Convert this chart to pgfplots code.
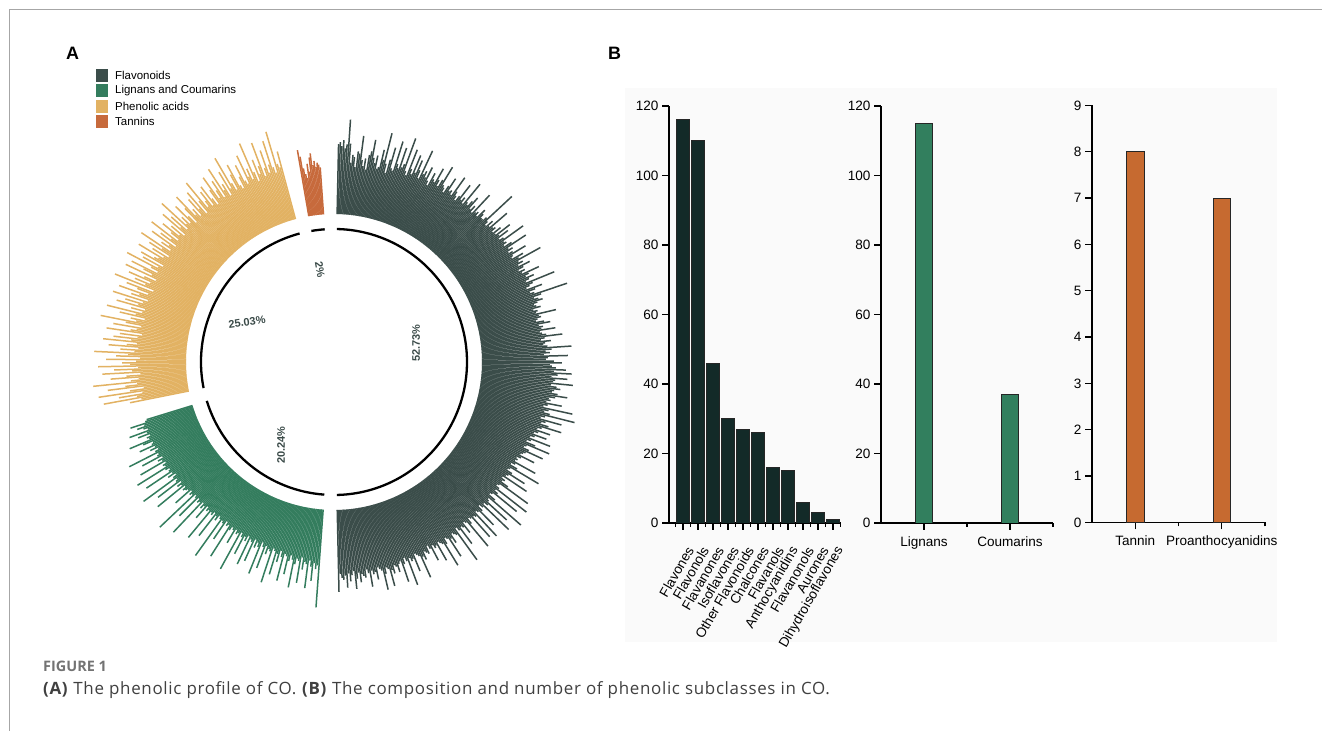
\documentclass[border=0pt]{standalone}
\usepackage{pgfplots}
\pgfplotsset{compat=1.18}
\usepackage{pgfplotstable}
\usepackage{fontspec}
\setmainfont{Liberation Sans}
\newfontfamily\capfont{Open Sans}
\definecolor{flavC}{HTML}{3B4D4A}
\definecolor{ligC}{HTML}{347D5E}
\definecolor{phenC}{HTML}{E2B263}
\definecolor{tanC}{HTML}{C76A3C}
\definecolor{barA}{HTML}{132A28}
\definecolor{barB}{HTML}{327F5E}
\definecolor{barC}{HTML}{C66A30}
\definecolor{lblC}{HTML}{3A4A48}

% Flavonoids (396 compounds), bar lengths
\pgfplotstableread[row sep=\\]{len\\
70\\72\\68\\74\\66\\70\\95\\71\\52\\60\\58\\48\\64\\62\\80\\56\\50\\58\\47\\62\\
66\\78\\60\\55\\63\\50\\52\\70\\60\\88\\57\\48\\62\\75\\54\\52\\83\\60\\56\\78\\
58\\62\\90\\56\\52\\80\\60\\55\\76\\58\\72\\62\\54\\85\\60\\64\\58\\70\\56\\52\\
66\\60\\58\\74\\62\\56\\64\\80\\60\\58\\54\\62\\72\\58\\60\\56\\78\\62\\58\\54\\
60\\75\\58\\62\\56\\82\\60\\58\\64\\70\\57\\62\\55\\80\\58\\60\\56\\66\\62\\58\\
58\\62\\95\\60\\56\\64\\58\\80\\60\\62\\57\\66\\58\\75\\60\\70\\58\\62\\85\\60\\
62\\58\\66\\82\\60\\64\\58\\62\\76\\60\\58\\70\\64\\88\\62\\66\\60\\72\\64\\58\\
64\\60\\78\\66\\62\\70\\64\\60\\90\\66\\62\\58\\74\\66\\60\\64\\98\\70\\62\\66\\
70\\64\\60\\62\\66\\58\\62\\60\\80\\62\\64\\60\\58\\66\\72\\60\\64\\62\\76\\60\\
62\\66\\82\\64\\60\\70\\64\\62\\66\\90\\70\\64\\68\\62\\86\\66\\64\\72\\80\\68\\
70\\74\\84\\72\\90\\76\\70\\86\\74\\72\\92\\70\\76\\80\\74\\72\\78\\88\\76\\70\\
72\\68\\84\\70\\66\\96\\72\\68\\74\\100\\70\\66\\88\\72\\68\\76\\90\\70\\66\\80\\
68\\64\\78\\66\\62\\84\\64\\60\\70\\86\\62\\60\\66\\82\\64\\62\\60\\76\\62\\58\\
60\\58\\82\\60\\56\\64\\90\\58\\56\\62\\78\\60\\58\\84\\56\\60\\58\\66\\92\\58\\
56\\60\\96\\58\\62\\88\\58\\56\\64\\100\\58\\60\\86\\62\\58\\94\\60\\56\\62\\80\\
60\\58\\90\\62\\60\\86\\60\\58\\64\\92\\60\\58\\70\\62\\60\\80\\62\\58\\96\\64\\
62\\60\\70\\64\\84\\62\\60\\66\\90\\64\\62\\60\\80\\62\\64\\60\\76\\62\\58\\66\\
64\\62\\70\\66\\88\\64\\62\\60\\78\\64\\66\\62\\90\\64\\60\\66\\84\\62\\64\\72\\
66\\64\\72\\68\\84\\66\\64\\70\\86\\66\\64\\62\\74\\66\\68\\64\\80\\66\\62\\70\\
68\\66\\74\\64\\70\\80\\62\\66\\72\\64\\78\\66\\70\\68\\64\\82\\
}\flav
% Lignans and Coumarins (152)
\pgfplotstableread[row sep=\\]{len\\
98\\56\\60\\54\\72\\58\\52\\80\\56\\54\\62\\50\\76\\54\\52\\58\\82\\54\\50\\56\\
70\\52\\50\\78\\54\\48\\60\\52\\74\\50\\48\\84\\52\\50\\56\\48\\72\\50\\46\\80\\
52\\48\\54\\46\\70\\50\\48\\76\\46\\52\\48\\68\\50\\46\\88\\48\\50\\46\\62\\48\\
46\\50\\82\\46\\48\\44\\66\\48\\46\\90\\46\\44\\50\\46\\72\\44\\48\\46\\80\\46\\
48\\44\\60\\46\\50\\44\\86\\46\\48\\44\\70\\46\\44\\92\\46\\48\\44\\64\\46\\48\\
50\\46\\80\\48\\52\\46\\74\\50\\48\\88\\50\\46\\54\\48\\78\\50\\48\\52\\84\\50\\
52\\48\\76\\50\\54\\48\\70\\52\\50\\82\\52\\48\\56\\50\\66\\52\\50\\60\\74\\52\\
54\\50\\62\\52\\70\\50\\54\\60\\52\\66\\50\\48\\
}\lig
% Phenolic acids (188)
\pgfplotstableread[row sep=\\]{len\\
60\\48\\86\\52\\70\\46\\90\\58\\44\\80\\62\\50\\94\\56\\48\\76\\60\\46\\84\\54\\
72\\48\\88\\56\\64\\50\\80\\46\\70\\58\\92\\52\\66\\48\\78\\60\\50\\84\\56\\74\\
50\\68\\46\\82\\58\\52\\76\\48\\64\\90\\54\\60\\46\\72\\56\\86\\50\\62\\48\\78\\
56\\70\\52\\84\\48\\66\\58\\80\\50\\62\\74\\46\\88\\56\\68\\52\\76\\60\\48\\82\\
54\\64\\78\\50\\58\\86\\52\\70\\48\\74\\60\\56\\80\\52\\66\\48\\72\\58\\84\\50\\
62\\54\\76\\48\\68\\56\\82\\50\\60\\72\\52\\64\\48\\78\\56\\70\\50\\86\\54\\62\\
52\\74\\58\\48\\66\\80\\54\\60\\50\\70\\56\\76\\48\\62\\84\\52\\58\\68\\50\\72\\
56\\48\\64\\78\\52\\60\\70\\50\\82\\56\\62\\48\\74\\54\\88\\58\\50\\66\\76\\52\\
48\\60\\72\\54\\50\\80\\56\\64\\52\\90\\58\\48\\70\\54\\62\\86\\50\\58\\
76\\52\\60\\84\\56\\50\\92\\58\\54\\70\\
}\phen
% Tannins (15)
\pgfplotstableread[row sep=\\]{len\\
67\\60\\48\\42\\38\\52\\44\\58\\62\\50\\54\\48\\52\\50\\47\\
}\tan

\pgfplotstablecreatecol[expr={88.8-0.4495*\pgfplotstablerow}]{ang}{\flav}
\pgfplotstablecreatecol[expr={265.8-0.455*\pgfplotstablerow}]{ang}{\lig}
\pgfplotstablecreatecol[expr={191.3-0.461*\pgfplotstablerow}]{ang}{\phen}
\pgfplotstablecreatecol[expr={99.8-0.41*\pgfplotstablerow}]{ang}{\tan}

\pgfplotsset{
  radbar/.style={mark=none, line width=1.5bp,
    quiver={u={\thisrow{len}*cos(\thisrow{ang})}, v={\thisrow{len}*sin(\thisrow{ang})}}},
  bstyle/.style={scale only axis, axis lines*=left, tick align=outside,
    major tick length=7bp, minor tick length=4bp,
    axis line style={line width=1.2bp, black},
    every tick/.style={line width=1.2bp, black},
    /pgf/number format/assume math mode=true,
    ticklabel style={font=\fontsize{13.6}{13.6}\selectfont},
    ybar, ymin=0, height=417bp, width=172bp},
}

\begin{document}
\begin{tikzpicture}
\useasboundingbox (0,0) rectangle (1322bp,731bp);
% frame
\draw[black!35, line width=1bp] (9.5bp,0) -- (9.5bp,721bp) -- (1322bp,721bp);
% panel B background
\fill[black!2] (625bp,89bp) rectangle (1277bp,643bp);

% ---------- Panel A ----------
\begin{axis}[scale only axis, width=520bp, height=520bp,
  xmin=-260, xmax=260, ymin=-260, ymax=260, hide axis, clip=false,
  at={(334bp,369bp)}, anchor=center]
\addplot[flavC, radbar] table[x expr={148*cos(\thisrow{ang})}, y expr={148*sin(\thisrow{ang})}] {\flav};
\addplot[ligC, radbar] table[x expr={148*cos(\thisrow{ang})}, y expr={148*sin(\thisrow{ang})}] {\lig};
\addplot[phenC, radbar] table[x expr={148*cos(\thisrow{ang})}, y expr={148*sin(\thisrow{ang})}] {\phen};
\addplot[tanC, radbar] table[x expr={148*cos(\thisrow{ang})}, y expr={148*sin(\thisrow{ang})}] {\tan};
\coordinate (C) at (axis cs:0,0);
\end{axis}
\draw[line width=2.3bp] ([shift={(88.8:133bp)}]C) arc[start angle=88.8, end angle=-88.8, radius=133bp];
\draw[line width=2.3bp] ([shift={(265.8:133bp)}]C) arc[start angle=265.8, end angle=197.0, radius=133bp];
\draw[line width=2.3bp] ([shift={(191.3:133bp)}]C) arc[start angle=191.3, end angle=105.0, radius=133bp];
\draw[line width=2.3bp] ([shift={(99.8:133bp)}]C) arc[start angle=99.8, end angle=94.0, radius=133bp];
\begin{scope}[every node/.style={text=lblC, font=\bfseries\fontsize{11}{11}\selectfont}]
\node[rotate=90] at ([shift={(82bp,19bp)}]C) {52.73\%};
\node[rotate=90] at ([shift={(-53bp,-83bp)}]C) {20.24\%};
\node[rotate=8] at ([shift={(-87bp,40bp)}]C) {25.03\%};
\node[rotate=-80] at ([shift={(-14bp,92bp)}]C) {2\%};
\end{scope}
% legend
\begin{scope}[every node/.style={anchor=west, font=\fontsize{11.5}{11.5}\selectfont, inner sep=0}]
\fill[flavC] (96bp,649bp) rectangle (108bp,662bp); \node at (115bp,655.5bp) {Flavonoids};
\fill[ligC]  (96bp,633.5bp) rectangle (108bp,646.5bp); \node at (115bp,640bp) {Lignans and Coumarins};
\fill[phenC] (96bp,618bp) rectangle (108bp,631bp); \node at (115bp,624.7bp) {Phenolic acids};
\fill[tanC]  (96bp,603bp) rectangle (108bp,616bp); \node at (115bp,609.3bp) {Tannins};
\end{scope}
\node[anchor=base west, inner sep=0, font=\bfseries\fontsize{18}{18}\selectfont] at (66bp,671bp) {A};
\node[anchor=base west, inner sep=0, font=\bfseries\fontsize{18}{18}\selectfont] at (608bp,671bp) {B};

% ---------- Panel B ----------
\begin{axis}[bstyle, at={(669bp,208bp)}, anchor=south west,
  xmin=-0.93, xmax=10.53, ymax=120, ytick={0,20,...,120},
  xtick={0,...,10}, minor xtick={-0.5,0.5,...,10.5},
  xticklabels={Flavones,Flavonols,Flavanones,Isoflavones,Other Flavonoids,Chalcones,Flavanols,Anthocyanidins,Flavanonols,Aurones,Dihydroisoflavones},
  xticklabel style={xshift=9bp, yshift=-15bp, rotate=60, anchor=east}, bar width=0.83]
\addplot[fill=barA, draw=black!85, line width=0.8bp] coordinates {(0,116) (1,110) (2,46) (3,30) (4,27) (5,26) (6,16) (7,15) (8,6) (9,3) (10,1)};
\end{axis}

\begin{axis}[bstyle, at={(881bp,208bp)}, anchor=south west,
  xmin=-0.5, xmax=1.5, ymax=120, ytick={0,20,...,120},
  xtick={0,1}, minor xtick={0.5,1.5},
  xticklabel style={yshift=-3bp},
  xticklabels={Lignans,Coumarins}, bar width=0.2]
\addplot[fill=barB, draw=black!85, line width=0.8bp] coordinates {(0,115) (1,37)};
\end{axis}

\begin{axis}[bstyle, at={(1092bp,208.6bp)}, anchor=south west, width=173bp,
  xmin=-0.5, xmax=1.5, ymax=9, ytick={0,1,...,9},
  xtick={0,1}, minor xtick={0.5,1.5},
  xticklabel style={yshift=-3bp},
  xticklabels={Tannin,Proanthocyanidins}, bar width=0.2]
\addplot[fill=barC, draw=black!85, line width=0.8bp] coordinates {(0,8) (1,7)};
\end{axis}

% caption
\node[anchor=base west, inner sep=0, font=\capfont\bfseries\fontsize{14.5}{14.5}\selectfont, text=black!55] at (43bp,59.5bp) {FIGURE 1};
\node[anchor=base west, inner sep=0, font=\capfont\fontsize{17}{17}\selectfont\addfontfeatures{LetterSpace=4}, text=black!75] at (43bp,37bp) {\textbf{(A)} The phenolic profile of CO. \textbf{(B)} The composition and number of phenolic subclasses in CO.};
\end{tikzpicture}
\end{document}
